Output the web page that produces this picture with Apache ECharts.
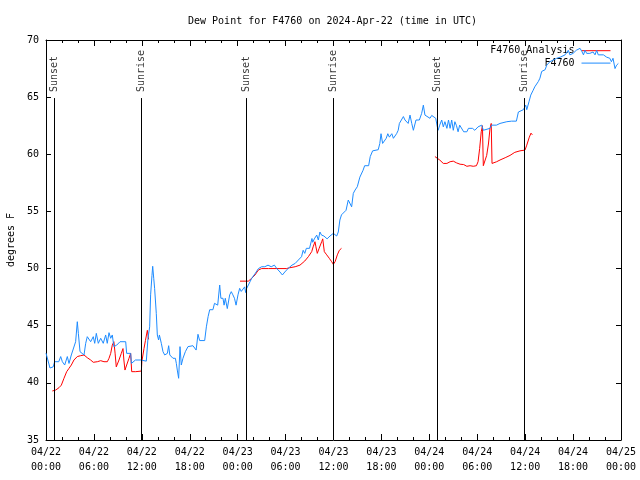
<!DOCTYPE html>
<html>
<head>
<meta charset="utf-8">
<script src="https://cdn.jsdelivr.net/npm/echarts@6/dist/echarts.min.js"></script>
<style>html,body{margin:0;padding:0;background:#fff}#c{width:640px;height:480px}</style>
</head>
<body>
<div id="c"></div>
<script>
// hours since 2024-04-22 00:00 UTC
const xTickLabels = ['04/22\n00:00','04/22\n06:00','04/22\n12:00','04/22\n18:00','04/23\n00:00','04/23\n06:00','04/23\n12:00','04/23\n18:00','04/24\n00:00','04/24\n06:00','04/24\n12:00','04/24\n18:00','04/25\n00:00'];
const sunsetHours = [1.03, 25.05, 49.0];
const sunriseHours = [11.98, 36.0, 59.88];

const obsF4760 = [[0,42.6],[0.25,42.6],[0.5,41.3],[0.9,41.4],[1.08,41.85],[1.6,41.85],[1.84,42.3],[2.05,41.85],[2.34,41.56],[2.67,42.3],[2.88,41.7],[3.17,42.44],[3.42,42.58],[3.71,43.6],[3.92,45.35],[4.05,44.33],[4.26,42.73],[4.5,42.73],[4.76,42.44],[4.97,43.46],[5.17,44.04],[5.59,43.6],[5.92,44.04],[6.1,43.46],[6.3,44.33],[6.55,43.46],[6.85,43.9],[7.17,43.46],[7.47,44.19],[7.67,43.46],[7.89,44.39],[8.1,43.9],[8.3,44.19],[8.5,43.17],[8.85,43.3],[9.27,43.6],[9.98,43.6],[10.1,42.58],[10.6,42.58],[10.7,41.7],[10.9,41.75],[11.2,42.0],[11.85,42.0],[12.56,41.9],[12.77,43.9],[12.98,44.9],[13.1,47.7],[13.27,49.4],[13.36,50.2],[13.49,49.15],[13.6,48.27],[13.81,46.08],[13.94,44.19],[14.1,43.75],[14.2,44.19],[14.44,43.46],[14.65,42.73],[14.86,42.44],[15.2,42.58],[15.36,43.25],[15.5,42.44],[15.69,42.58],[15.9,42.15],[16.2,42.15],[16.32,41.7],[16.44,41.12],[16.61,40.4],[16.78,43.17],[16.94,41.56],[17.15,42.15],[17.45,42.73],[17.78,43.17],[18.4,43.25],[18.6,43.3],[18.8,42.87],[19.03,44.25],[19.24,43.7],[19.87,43.7],[20.08,44.9],[20.3,45.8],[20.5,46.4],[20.7,46.5],[20.9,46.4],[21.1,46.96],[21.5,46.8],[21.75,48.56],[21.9,47.4],[22.16,47.4],[22.3,46.8],[22.45,47.4],[22.7,46.5],[22.85,46.5],[23.0,47.7],[23.2,47.98],[23.4,47.7],[23.6,47.4],[23.8,46.8],[24.04,47.7],[24.25,48.27],[24.45,48.0],[24.65,48.1],[24.88,48.4],[25.0,47.9],[25.13,48.27],[25.55,48.85],[25.76,49.15],[26.2,49.58],[26.6,50.0],[27.0,50.16],[27.4,50.16],[27.8,50.3],[28.2,50.16],[28.6,50.3],[28.9,50.0],[29.3,49.7],[29.6,49.44],[29.9,49.7],[30.3,50.0],[30.8,50.3],[31.2,50.45],[31.6,50.75],[32.0,51.04],[32.2,51.6],[32.4,51.33],[32.6,51.77],[32.8,51.9],[33.0,51.77],[33.3,52.63],[33.4,52.3],[33.6,52.6],[33.9,52.93],[34.1,52.5],[34.3,53.2],[34.5,52.93],[34.65,53.0],[34.8,52.85],[35.2,52.6],[35.56,52.85],[35.98,53.08],[36.4,52.85],[36.6,53.2],[36.8,54.25],[37.0,54.7],[37.2,54.8],[37.57,55.1],[37.85,56.0],[38.1,56.1],[38.27,55.4],[38.48,56.58],[38.7,56.87],[38.98,57.16],[39.3,58.0],[39.5,58.1],[39.7,58.6],[39.9,59.0],[40.4,59.0],[40.6,59.8],[40.9,60.3],[41.6,60.4],[41.8,60.95],[41.95,61.8],[42.15,60.95],[42.35,60.95],[42.6,61.4],[42.8,61.8],[43.0,61.5],[43.3,61.8],[43.5,61.4],[43.9,61.8],[44.1,62.1],[44.25,62.7],[44.5,62.56],[44.75,63.3],[44.95,63.0],[45.15,62.85],[45.35,62.7],[45.58,63.43],[45.8,62.7],[46.0,62.1],[46.33,63.0],[46.75,63.0],[47.04,63.58],[47.25,64.3],[47.45,63.43],[47.66,63.3],[48.08,63.15],[48.3,63.4],[48.5,63.43],[48.8,63.15],[49.0,62.4],[49.1,62.1],[49.3,62.55],[49.55,63.0],[49.75,62.4],[49.95,62.85],[50.2,62.27],[50.4,63.0],[50.6,62.27],[50.8,63.0],[51.0,62.1],[51.2,62.85],[51.4,62.5],[51.6,61.97],[51.8,62.55],[52.0,62.7],[52.3,61.97],[52.5,61.9],[52.7,61.97],[52.9,62.27],[53.1,62.4],[53.4,62.27],[53.7,62.1],[54.1,62.4],[54.56,62.55],[54.76,62.1],[55.0,62.27],[55.6,62.27],[55.8,62.55],[56.4,62.55],[56.85,62.7],[57.7,62.85],[58.3,62.9],[58.9,62.9],[59.15,63.7],[59.77,63.9],[60.07,64.3],[60.2,63.9],[60.48,64.6],[60.7,65.18],[61.0,65.6],[61.2,65.9],[61.4,65.8],[61.65,66.37],[61.85,66.66],[62.07,67.25],[62.5,67.4],[62.7,67.8],[63.1,68.1],[63.5,68.24],[63.95,68.4],[64.4,68.5],[65.0,68.7],[65.4,69.1],[65.6,68.7],[66.0,68.83],[66.4,69.1],[66.87,69.27],[67.1,69.0],[67.3,68.7],[67.5,69.1],[67.7,68.83],[68.1,68.83],[68.5,68.95],[68.75,68.7],[68.95,69.1],[69.15,68.7],[69.37,68.7],[69.8,68.7],[70.0,68.83],[70.2,68.5],[70.6,68.4],[70.8,68.1],[71.0,68.4],[71.25,67.5],[71.45,67.8],[71.67,67.95]];

const analysisDay1 = [[0.79,39.29],[1.21,39.37],[1.63,39.58],[1.92,39.8],[2.25,40.4],[2.59,40.98],[2.88,41.27],[3.17,41.56],[3.5,42.0],[3.92,42.3],[4.34,42.38],[4.76,42.44],[5.17,42.2],[5.59,42.0],[5.92,41.8],[6.43,41.85],[6.85,41.94],[7.26,41.85],[7.68,41.85],[7.89,42.15],[8.1,42.58],[8.3,43.3],[8.5,43.6],[8.65,42.6],[8.8,41.4],[9.14,42.0],[9.43,42.58],[9.64,43.0],[9.75,42.0],[9.89,41.12],[10.1,41.56],[10.39,42.15],[10.6,42.58],[10.73,40.98],[11.23,40.98],[11.94,41.03],[12.0,41.85],[12.27,43.0],[12.45,43.7],[12.69,44.6],[12.85,43.8]];
const analysisDay2 = [[24.29,48.9],[25.33,48.9],[25.76,49.15],[26.17,49.44],[26.59,49.87],[27.0,50.0],[27.85,50.0],[29.3,50.0],[30.1,50.0],[30.5,50.07],[31.2,50.16],[31.8,50.3],[32.4,50.66],[32.85,51.04],[33.27,51.48],[33.45,51.9],[33.68,52.35],[33.8,51.9],[33.97,51.33],[34.2,51.77],[34.52,52.35],[34.65,52.6],[34.85,51.48],[35.15,51.2],[35.47,50.9],[35.77,50.6],[35.98,50.37],[36.2,50.6],[36.48,51.2],[36.73,51.6],[37.0,51.77]];
const analysisDay3 = [[48.7,59.8],[48.9,59.8],[49.3,59.5],[49.75,59.2],[50.2,59.2],[50.6,59.35],[51.0,59.4],[51.4,59.25],[51.85,59.13],[52.3,59.1],[52.7,58.95],[53.1,59.0],[53.5,58.95],[53.9,59.0],[54.1,59.35],[54.3,60.5],[54.5,61.97],[54.65,62.5],[54.76,59.0],[55.18,59.9],[55.4,60.9],[55.6,62.27],[55.75,62.7],[55.85,59.2],[56.0,59.2],[56.43,59.35],[56.85,59.5],[57.5,59.7],[58.1,59.9],[58.7,60.17],[59.35,60.3],[59.98,60.37],[60.2,60.8],[60.52,61.5],[60.73,61.85],[60.9,61.7]];

const FONT = 'DejaVu Sans Mono';
const BLUE = '#1e8cff';
const RED = '#ff0000';
const LINE_TOP = 64.92;
const LABEL_Y = 65.45;

const markData = [];
sunsetHours.concat(sunriseHours).forEach(h => {
  markData.push([{coord: [h, 35]}, {coord: [h, LINE_TOP]}]);
});
const sunLabels = sunsetHours.map(h => ({value: [h, LABEL_Y], name: 'Sunset'}))
  .concat(sunriseHours.map(h => ({value: [h, LABEL_Y], name: 'Sunrise'})));

const chart = echarts.init(document.getElementById('c'), null, {renderer: 'canvas'});
const axisCommon = {
  axisLine: {show: true, onZero: false, lineStyle: {color: '#000', width: 1}},
  splitLine: {show: false}
};
const analysisSeries = [analysisDay1, analysisDay2, analysisDay3].map(d => ({
  name: 'F4760 Analysis', type: 'line', data: d, showSymbol: false, symbol: 'none',
  lineStyle: {color: RED, width: 1}, itemStyle: {color: RED}, z: 3
}));
chart.setOption({
  animation: false,
  backgroundColor: '#fff',
  title: {
    text: 'Dew Point for F4760 on 2024-Apr-22 (time in UTC)',
    left: 188, top: 16, padding: 0,
    textStyle: {fontFamily: FONT, fontSize: 10, fontWeight: 'normal', color: '#000'}
  },
  legend: {
    data: ['F4760 Analysis', 'F4760'],
    orient: 'vertical', align: 'right', right: 29, top: 45.5, padding: 0,
    itemWidth: 29, itemHeight: 13, itemGap: 2,
    itemStyle: {opacity: 0},
    lineStyle: {width: 1},
    textStyle: {fontFamily: FONT, fontSize: 10, color: '#000', padding: [0, 2, 0, 0]}
  },
  grid: {left: 46, right: 19, top: 40, bottom: 40, containLabel: false, outerBoundsMode: 'none'},
  xAxis: [
    Object.assign({}, axisCommon, {
      type: 'value', position: 'bottom', min: 0, max: 72, interval: 6,
      axisTick: {show: true, inside: true, length: 6, lineStyle: {color: '#000'}},
      minorTick: {show: true, splitNumber: 3, length: 3, lineStyle: {color: '#000'}},
      axisLabel: {show: true, margin: 5, lineHeight: 15, fontFamily: FONT, fontSize: 10, color: '#000',
        formatter: v => xTickLabels[Math.round(v / 6)]}
    }),
    Object.assign({}, axisCommon, {
      type: 'value', position: 'top', min: 0, max: 72, interval: 6,
      axisTick: {show: true, inside: true, length: 6, lineStyle: {color: '#000'}},
      minorTick: {show: true, splitNumber: 3, length: 3, lineStyle: {color: '#000'}},
      axisLabel: {show: false}
    })
  ],
  yAxis: [
    Object.assign({}, axisCommon, {
      type: 'value', position: 'left', min: 35, max: 70, interval: 5,
      name: 'degrees F', nameLocation: 'middle', nameRotate: 90, nameGap: 30,
      nameTextStyle: {fontFamily: FONT, fontSize: 10, color: '#000'},
      axisTick: {show: true, inside: true, length: 5, lineStyle: {color: '#000'}},
      axisLabel: {show: true, margin: 7, fontFamily: FONT, fontSize: 10, color: '#000'}
    }),
    Object.assign({}, axisCommon, {
      type: 'value', position: 'right', min: 35, max: 70, interval: 5,
      axisTick: {show: true, inside: true, length: 5, lineStyle: {color: '#000'}},
      axisLabel: {show: false}
    })
  ],
  series: analysisSeries.concat([
    {
      name: 'F4760', type: 'line', data: obsF4760, showSymbol: false, symbol: 'none',
      lineStyle: {color: BLUE, width: 1}, itemStyle: {color: BLUE}, z: 4,
      markLine: {
        silent: true, symbol: ['none', 'none'], animation: false,
        label: {show: false},
        lineStyle: {color: '#000', width: 1, type: 'solid'},
        emphasis: {disabled: true},
        data: markData
      }
    },
    {
      name: 'sun', type: 'scatter', data: sunLabels, symbolSize: 0, silent: true, z: 5,
      label: {
        show: true, position: 'inside', rotate: 90, align: 'left', verticalAlign: 'middle',
        formatter: p => p.name, fontFamily: FONT, fontSize: 10, color: '#000',
        textBorderWidth: 0, textShadowBlur: 0
      }
    }
  ])
});
</script>
</body>
</html>
